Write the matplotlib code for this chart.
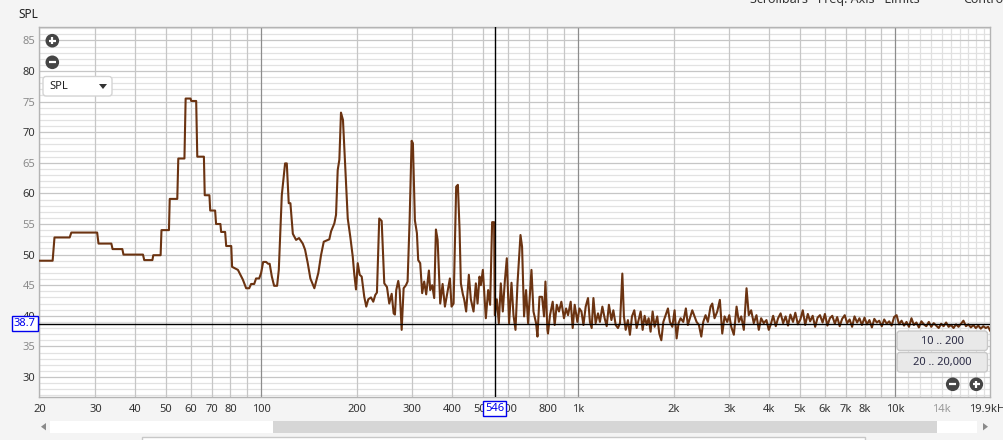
"""
SPL spectrum view (REW style RTA window) rebuilt with matplotlib
"""

import numpy as np
import matplotlib
matplotlib.use("Agg")
import matplotlib.pyplot as plt
from matplotlib.patches import Rectangle, FancyBboxPatch, Circle, Polygon

plt.rcParams['font.family'] = ['Noto Sans', 'DejaVu Sans']

# --- data ----------------------------------------------------------------
# 20 Hz .. 800 Hz (coarse bins at the bottom, so the steps are kept)
freq_low = [20.0, 22.0, 22.3, 24.9, 25.2, 30.4, 30.7, 33.7, 34.0, 36.5,
            36.8, 42.4, 42.8, 45.4, 45.7, 48.2, 48.5, 51.2, 51.5, 54.4,
            54.8, 57.3, 57.8, 59.9, 60.2, 62.4, 62.9, 66.0, 66.4, 68.7,
            69.1, 71.6, 72.1, 74.4, 74.8, 77.0, 77.6, 80.5, 81.0, 84.5,
            87.6, 89.7, 91.7, 93.0, 95.1, 96.4, 98.6, 100.0, 101.5, 103.7,
            105.2, 106.4, 108.1, 109.9, 112.3, 113.7, 116.2, 119.0, 120.5, 122.2,
            123.7, 125.9, 128.9, 131.7, 135.3, 137.6, 140.3, 143.0, 147.2, 151.5,
            154.5, 157.6, 164.1, 166.2, 170.2, 172.3, 174.4, 176.5, 178.6, 181.2,
            185.2, 187.6, 191.1, 194.5, 196.8, 199.2, 201.7, 204.6, 207.6, 211.5,
            214.6, 217.8, 222.1, 225.8, 229.1, 231.9, 235.8, 240.0, 244.6, 249.4,
            253.6, 258.1, 261.8, 264.3, 266.8, 270.7, 273.5, 277.5, 281.5, 286.3,
            289.7, 294.0, 298.3, 301.1, 305.5, 310.0, 312.9, 317.5, 322.1, 326.8,
            331.6, 338.2, 341.4, 346.4, 351.5, 355.9, 360.3, 367.2, 373.6, 379.9,
            386.8, 393.9, 398.7, 404.6, 412.3, 417.4, 422.6, 426.6, 432.8, 436.9,
            443.3, 452.0, 458.6, 467.7, 475.6, 481.5, 488.5, 493.2, 500.4, 511.4,
            520.0, 527.6, 535.3, 543.1, 545.8, 553.8, 561.9, 570.1, 578.4, 586.9,
            595.5, 605.4, 616.1, 625.1, 634.3, 643.6, 657.7, 665.3, 675.0, 684.9,
            695.0, 712.3, 722.7, 736.5, 744.0, 754.9, 769.1, 780.4, 788.3, 799.8]
spl_low = [49.0, 49.0, 52.8, 52.8, 53.6, 53.6, 51.8, 51.8, 50.9, 50.9,
           50.0, 50.0, 49.1, 49.1, 49.9, 49.9, 54.0, 54.0, 59.1, 59.1,
           65.7, 65.7, 75.5, 75.5, 75.1, 75.1, 66.0, 66.0, 59.7, 59.7,
           57.2, 57.2, 55.0, 55.0, 53.7, 53.7, 51.4, 51.4, 48.0, 47.5,
           45.9, 44.5, 44.5, 45.2, 45.2, 46.1, 46.1, 47.0, 48.8, 48.8,
           48.5, 48.5, 46.4, 44.9, 44.9, 47.5, 59.7, 64.9, 64.9, 58.4,
           58.4, 53.4, 52.4, 52.7, 51.8, 50.8, 48.6, 46.1, 44.5, 47.0,
           49.9, 52.1, 52.5, 53.8, 55.1, 56.5, 63.8, 65.5, 73.2, 72.0,
           61.9, 55.9, 52.9, 49.7, 46.7, 44.3, 48.6, 46.7, 46.4, 43.1,
           41.5, 42.7, 43.0, 42.3, 43.4, 43.8, 55.9, 55.5, 45.3, 44.7,
           42.0, 43.6, 40.4, 40.2, 44.2, 45.7, 44.2, 37.7, 44.5, 45.0,
           45.6, 55.6, 68.6, 68.2, 55.6, 53.5, 49.1, 48.6, 43.7, 45.6,
           43.5, 47.4, 44.2, 45.0, 42.9, 54.1, 52.4, 42.0, 45.2, 41.5,
           43.8, 46.1, 41.5, 42.0, 61.1, 61.4, 54.0, 45.3, 43.5, 42.7,
           40.7, 46.7, 42.7, 40.7, 45.3, 42.0, 46.4, 45.0, 47.5, 39.6,
           44.2, 41.8, 55.3, 55.3, 40.1, 42.7, 38.8, 45.3, 40.7, 45.6,
           49.4, 38.8, 45.4, 40.1, 37.7, 45.3, 53.2, 51.3, 39.9, 44.2,
           38.8, 47.5, 40.7, 38.8, 36.6, 43.1, 43.1, 39.9, 45.6, 37.7]

# 800 Hz .. 4 kHz
freq_mid = [803, 815, 831, 843, 856, 870, 885, 902, 916, 929,
            947, 961, 975, 994, 1009, 1024, 1039, 1056, 1074, 1089,
            1103, 1117, 1135, 1155, 1171, 1192, 1212, 1230, 1250, 1273,
            1291, 1313, 1335, 1355, 1378, 1394, 1412, 1435, 1456, 1478,
            1503, 1529, 1555, 1574, 1597, 1620, 1644, 1668, 1692, 1717,
            1742, 1776, 1802, 1829, 1856, 1887, 1919, 1947, 1981, 2014,
            2044, 2073, 2104, 2145, 2186, 2218, 2251, 2290, 2329, 2363,
            2403, 2445, 2480, 2522, 2565, 2615, 2648, 2692, 2746, 2798,
            2847, 2895, 2952, 2996, 3039, 3097, 3159, 3212, 3268, 3330,
            3396, 3452, 3512, 3579, 3650, 3712, 3776, 3848, 3924, 3991]
spl_mid = [37.1, 40.1, 42.3, 38.5, 41.8, 40.7, 42.3, 39.6, 41.2, 40.1,
           42.3, 38.0, 41.8, 39.0, 41.2, 40.7, 38.5, 41.5, 42.9, 39.0,
           38.0, 42.9, 38.8, 40.4, 39.0, 41.5, 39.6, 38.3, 41.8, 39.3,
           40.9, 38.5, 38.0, 38.8, 46.9, 39.9, 37.7, 39.3, 36.9, 39.9,
           40.9, 38.0, 39.6, 40.7, 37.7, 40.0, 38.5, 39.6, 37.4, 40.7,
           38.2, 39.9, 37.1, 36.0, 39.0, 40.1, 41.2, 39.0, 38.2, 40.9,
           36.3, 38.8, 39.6, 39.0, 41.2, 38.5, 39.6, 40.9, 39.9, 39.0,
           38.5, 36.6, 39.0, 40.1, 39.0, 41.5, 42.0, 39.6, 40.7, 42.6,
           37.1, 39.9, 39.0, 40.1, 38.2, 36.9, 41.5, 39.0, 39.9, 37.7,
           44.5, 40.1, 40.9, 38.8, 40.1, 37.7, 39.6, 38.8, 39.3, 37.7]

# 4 kHz .. 19.9 kHz
freq_high = [4050, 4120, 4200, 4270, 4350, 4430, 4510, 4590, 4670, 4760,
             4840, 4930, 5020, 5110, 5200, 5300, 5390, 5490, 5590, 5690,
             5790, 5900, 6000, 6110, 6220, 6330, 6450, 6560, 6680, 6800,
             6930, 7050, 7180, 7310, 7440, 7580, 7710, 7850, 8000, 8140,
             8290, 8440, 8590, 8750, 8900, 9070, 9230, 9400, 9570, 9740,
             9920, 10100, 10280, 10470, 10660, 10850, 11050, 11250, 11450, 11660,
             11870, 12090, 12310, 12530, 12760, 12990, 13220, 13460, 13710, 13960,
             14210, 14470, 14730, 15000, 15270, 15550, 15830, 16120, 16410, 16710,
             17010, 17320, 17630, 17950, 18280, 18610, 18950, 19290, 19640, 19900]
spl_high = [38.6, 40.0, 38.3, 39.6, 40.4, 38.8, 39.9, 38.4, 40.2, 39.0,
            40.5, 38.6, 39.4, 40.9, 38.5, 40.3, 39.1, 40.0, 38.2, 39.7,
            40.1, 38.9, 40.3, 38.4, 39.6, 40.0, 38.7, 39.8, 38.3, 39.5,
            40.1, 38.8, 39.4, 38.2, 39.9, 38.9, 39.6, 38.5, 39.7, 38.6,
            39.3, 38.1, 39.5, 38.9, 39.2, 38.3, 39.4, 38.7, 39.1, 38.4,
            39.8, 40.1, 38.6, 39.2, 38.4, 39.0, 38.2, 39.6, 38.5, 38.9,
            38.1, 39.1, 38.6, 38.3, 39.0, 38.2, 38.8, 38.4, 38.0, 38.7,
            38.3, 38.9, 38.2, 38.5, 38.0, 38.6, 38.2, 38.7, 39.2, 38.3,
            38.6, 38.1, 38.5, 38.0, 38.4, 37.9, 38.3, 38.0, 38.2, 37.6]

cursor_freq = 546
cursor_spl = 38.7

xtick_vals = [20, 30, 40, 50, 60, 70, 80, 100, 200, 300, 400, 500, 600, 800,
              1000, 2000, 3000, 4000, 5000, 6000, 7000, 8000, 10000, 14000, 19900]
xtick_labels = ['20', '30', '40', '50', '60', '70', '80', '100', '200', '300',
                '400', '500', '600', '800', '1k', '2k', '3k', '4k', '5k', '6k',
                '7k', '8k', '10k', '14k', '19.9kHz']
ytick_vals = [30, 35, 40, 45, 50, 55, 60, 65, 70, 75, 80, 85]

freq = np.array(freq_low + freq_mid + freq_high)
spl = np.array(spl_low + spl_mid + spl_high)

# --- figure ---------------------------------------------------------------
W, H = 1004, 440
fig = plt.figure(figsize=(W / 100, H / 100), dpi=100, facecolor='#f4f4f4')
ax = fig.add_axes([39.5 / W, 1 - 397 / H, (990 - 39.5) / W, (397 - 27) / H])
ax.set_facecolor('white')
ax.set_xscale('log')
ax.set_xlim(20, 19900)
ax.set_ylim(26.73, 87.19)

# grid
for db in range(27, 88):
    if db % 5 == 0:
        ax.axhline(db, color='#c6c6c6', lw=0.9, zorder=1)
    else:
        ax.axhline(db, color='#e2e2e2', lw=0.9, zorder=0.9)
for dec in [10, 100, 1000]:
    for m in range(2, 10):
        f = m * dec
        if f >= 20:
            ax.axvline(f, color='#c6c6c6', lw=0.9, zorder=1)
for f in [100, 1000, 10000]:
    ax.axvline(f, color='#8c8c8c', lw=0.9, zorder=1.1)
for f in range(11000, 20000, 1000):
    ax.axvline(f, color='#e0e0e0', lw=0.9, zorder=0.9)

ax.plot(freq, spl, color='#6b3311', lw=1.5, zorder=3, solid_joinstyle='round')

ax.axvline(cursor_freq, color='black', lw=1.0, zorder=4)
ax.axhline(cursor_spl, color='black', lw=1.0, zorder=4)

for s in ax.spines.values():
    s.set_color('#b4b4b4')
    s.set_linewidth(1.0)

ax.set_xticks(xtick_vals)
ax.set_xticklabels(xtick_labels)
ax.xaxis.set_minor_locator(matplotlib.ticker.NullLocator())
ax.set_yticks(ytick_vals)
ax.set_yticklabels([str(v) for v in ytick_vals])
ax.tick_params(axis='x', length=0, pad=5, labelsize=8, labelcolor='#333333')
ax.tick_params(axis='y', length=0, pad=3, labelsize=8)
for lab in ax.get_xticklabels():
    if lab.get_text() == '14k':
        lab.set_color('#9a9a9a')
for lab, v in zip(ax.get_yticklabels(), ytick_vals):
    lab.set_color('#333333' if v % 10 == 0 else '#8a8a8a')

# cursor read-outs
ax.text(-0.004, cursor_spl, '38.7', transform=ax.get_yaxis_transform(),
        ha='right', va='center', color='#0000ee', fontsize=8, zorder=6,
        clip_on=False,
        bbox=dict(boxstyle='square,pad=0.18', fc='white', ec='#0000ee', lw=1))
ax.text(cursor_freq, -0.031, '546', transform=ax.get_xaxis_transform(),
        ha='center', va='center', color='#0000ee', fontsize=8, zorder=6,
        clip_on=False,
        bbox=dict(boxstyle='square,pad=0.18', fc='white', ec='#0000ee', lw=1))

# --- window furniture (pixel coordinates) ---------------------------------
ui = fig.add_axes([0, 0, 1, 1], zorder=5)
ui.set_xlim(0, W)
ui.set_ylim(H, 0)
ui.axis('off')
ui.patch.set_alpha(0)

fig.text(18 / W, 1 - 15 / H, 'SPL', fontsize=8.5, color='#222222', va='center')
fig.text(750 / W, 1 - 3 / H, 'Scrollbars   Freq. Axis   Limits', fontsize=9,
         color='#333333', va='baseline')
fig.text(963 / W, 1 - 3 / H, 'Controls', fontsize=9, color='#333333',
         va='baseline')


def zoom_icon(x, y, plus):
    ui.add_patch(Circle((x, y), 6.8, fc='#454545', ec='none'))
    ui.plot([x - 3.6, x + 3.6], [y, y], color='white', lw=1.6,
            solid_capstyle='butt')
    if plus:
        ui.plot([x, x], [y - 3.6, y + 3.6], color='white', lw=1.6,
                solid_capstyle='butt')


zoom_icon(52.3, 40.7, True)
zoom_icon(52.3, 62.3, False)
zoom_icon(952.7, 384.3, False)
zoom_icon(976.3, 384.3, True)

# SPL dropdown
ui.add_patch(FancyBboxPatch((43, 76.5), 69, 19.5,
                            boxstyle='round,pad=0,rounding_size=3',
                            fc='white', ec='#d4d4d4', lw=1))
ui.text(49, 86.5, 'SPL', fontsize=8, color='#222222', va='center')
ui.add_patch(Polygon([[99, 84], [107, 84], [103, 89]], closed=True,
                     fc='#333333', ec='none'))

# range buttons
for y0, txt in [(331, '10 .. 200'), (352.5, '20 .. 20,000')]:
    ui.add_patch(FancyBboxPatch((897, y0), 90.5, 19.5,
                                boxstyle='round,pad=0,rounding_size=3',
                                fc='#e9e9e9', ec='#c9c9c9', lw=1))
    ui.text(942, y0 + 10, txt, fontsize=8, color='#2a2a44',
            ha='center', va='center')

# scrollbar
ui.add_patch(Rectangle((50, 420.7), 223, 12, fc='white', ec='none'))
ui.add_patch(Rectangle((273, 420.7), 664, 12, fc='#d6d6d6', ec='none'))
ui.add_patch(Rectangle((937, 420.7), 40, 12, fc='white', ec='none'))
ui.add_patch(Polygon([[41, 426.7], [46, 423], [46, 430.4]], closed=True,
                     fc='#8a8a8a', ec='none'))
ui.add_patch(Polygon([[988, 426.7], [983, 423], [983, 430.4]], closed=True,
                     fc='#8a8a8a', ec='none'))

# panel below
ui.add_patch(Rectangle((142.5, 436.8), 722.5, 10, fc='white', ec='#c8c8c8',
                       lw=1, clip_on=False))

fig.savefig('out.png', dpi=100, facecolor=fig.get_facecolor())
